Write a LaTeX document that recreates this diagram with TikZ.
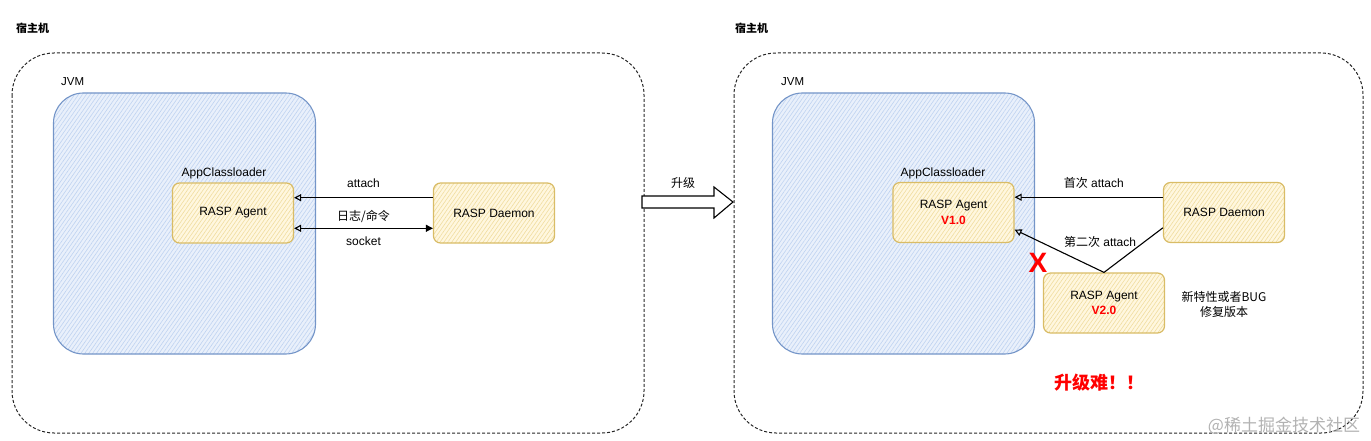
\documentclass[tikz,border=0pt]{standalone}
\usepackage{fontspec}
\setmainfont{Liberation Sans}
\newfontfamily\cjk{Noto Sans CJK SC}
\usetikzlibrary{arrows.meta,patterns.meta,calc}
\definecolor{jvmfill}{HTML}{E9F0FB}
\definecolor{jvmhatch}{HTML}{BFD3F1}
\definecolor{jvmline}{HTML}{7495C8}
\definecolor{agfill}{HTML}{FFF7DF}
\definecolor{aghatch}{HTML}{F0DD9F}
\definecolor{agline}{HTML}{D9BC66}
\begin{document}
\begin{tikzpicture}[x=1pt,y=-1pt,
  host/.style={draw=black!85, line width=1pt, dash pattern=on 3pt off 2pt, rounded corners=42pt},
  jvmbox/.style={draw=jvmline, line width=1.1pt, rounded corners=30pt, minimum width=262pt, minimum height=261pt,
     preaction={fill=jvmfill}, pattern={Lines[angle=55,distance=3.2pt,line width=0.6pt]}, pattern color=jvmhatch},
  agbox/.style={draw=agline, line width=1.2pt, rounded corners=7pt, minimum width=121pt, minimum height=60pt,
     preaction={fill=agfill}, pattern={Lines[angle=55,distance=3.2pt,line width=0.6pt]}, pattern color=aghatch,
     align=center, font=\fontsize{12}{15.5}\selectfont, inner sep=0pt},
  lbl/.style={font=\fontsize{12}{15}\selectfont, inner sep=0pt},
  title/.style={font=\cjk\bfseries\fontsize{11}{13}\selectfont, anchor=west, inner sep=0pt},
  arr/.style={line width=1.1pt, -{Triangle[open,length=7pt,width=7pt]}},
  darr/.style={line width=1.1pt, {Triangle[open,length=7pt,width=7pt]}-{Triangle[length=7pt,width=7pt]}},
  ver/.style={text=red, font=\bfseries\fontsize{12}{15}\selectfont}
]
\useasboundingbox (0,0) rectangle (1371,441);

% ---------- left panel ----------
\node[title] (hostLt) at (16,28) {宿主机};
\draw[host] (12,53) rectangle (644,433);
\node[lbl, anchor=west, font=\fontsize{11.5}{14}\selectfont] (jvmLt) at (61,82) {JVM};
\node[jvmbox] (jvmL) at (184.5,223.5) {};
\node[lbl] (aclL) at (224,173) {AppClassloader};
\node[agbox] (agentL) at (233,213) {RASP Agent};
\node[agbox] (daemonL) at (494,213) {RASP Daemon};

\draw[arr] ($(daemonL.north west)!0.25!(daemonL.south west)$) -- ($(agentL.north east)!0.25!(agentL.south east)$)
  node[lbl, midway, yshift=14pt] (attL) {attach};
\draw[darr] ($(agentL.north east)!0.75!(agentL.south east)$) -- ($(daemonL.north west)!0.75!(daemonL.south west)$)
  node[lbl, midway, yshift=12pt] (logL) {\cjk 日志/命令}
  node[lbl, midway, yshift=-13pt] (sockL) {socket};

% ---------- upgrade arrow ----------
\coordinate (u0) at (642,196);
\draw[line width=1.1pt, fill=white, line join=miter] (u0) -- (714,196) -- (714,187) -- (733,202) -- (714,218) -- (714,208) -- (642,208) -- cycle;
\node[lbl] (upg) at (683,183) {\cjk 升级};

% ---------- right panel ----------
\node[title] (hostRt) at (735,28) {宿主机};
\draw[host] (734,53) rectangle (1363,433);
\node[lbl, anchor=west, font=\fontsize{11.5}{14}\selectfont] (jvmRt) at (781,82) {JVM};
\node[jvmbox] (jvmR) at (903.5,223.5) {};
\node[lbl] (aclR) at (943,173) {AppClassloader};
\node[agbox] (agent1) at (953.5,212.5) {RASP Agent\\{\color{red}\bfseries V1.0}};
\node[agbox] (daemonR) at (1224,212.5) {RASP Daemon};
\node[agbox] (agent2) at (1104,303) {RASP Agent\\{\color{red}\bfseries V2.0}};

\draw[arr] ($(daemonR.north west)!0.25!(daemonR.south west)$) -- ($(agent1.north east)!0.25!(agent1.south east)$)
  node[lbl, midway, xshift=5pt, yshift=14pt] (att1) {{\cjk 首次} attach};
\draw[arr] ($(daemonR.north west)!0.75!(daemonR.south west)$) -- (agent2.north)
  node[lbl, yshift=30pt, xshift=-4pt] (att2) {{\cjk 第二次} attach}
  -- ($(agent1.north east)!0.78!(agent1.south east)$);

\node[text=red, font=\bfseries\fontsize{28}{30}\selectfont, inner sep=0pt] (xmark) at (1038,263) {X};
\node[lbl, align=center, font=\cjk\fontsize{12}{15.5}\selectfont] (note) at (1224,304.5) {新特性或者BUG\\修复版本};
\node[text=red, font=\cjk\bfseries\fontsize{18}{20}\selectfont, inner sep=0pt] (hard) at (1099,383) {升级难！！};
\node[text=black!30, font=\cjk\fontsize{17}{19}\selectfont, inner sep=0pt] (wm) at (1284,426) {@稀土掘金技术社区};
\end{tikzpicture}
\end{document}
